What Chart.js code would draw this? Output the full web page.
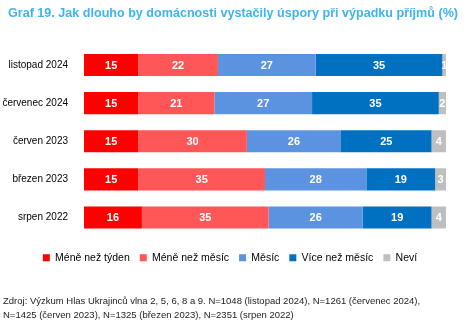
<!DOCTYPE html>
<html>
<head>
<meta charset="utf-8">
<script src="https://cdn.jsdelivr.net/npm/chart.js@4"></script>
<style>
  html, body { margin: 0; padding: 0; background: #fff; }
  #wrap { width: 468px; height: 335px; }
</style>
</head>
<body>
<div id="wrap"><canvas id="chart" width="468" height="335"></canvas></div>
<script>
const periods = ['listopad 2024', 'červenec 2024', 'červen 2023', 'březen 2023', 'srpen 2022'];
const seriesNames = ['Méně než týden', 'Méně než měsíc', 'Měsíc', 'Více než měsíc', 'Neví'];
const lessThanWeek = [15, 15, 15, 15, 16];
const lessThanMonth = [22, 21, 30, 35, 35];
const oneMonth = [27, 27, 26, 28, 26];
const moreThanMonth = [35, 35, 25, 19, 19];
const dontKnow = [1, 2, 4, 3, 4];
const seriesColors = ['#FF0000', '#FF5757', '#5B93E0', '#0070C0', '#BFBFBF'];

const titleText = 'Graf 19. Jak dlouho by domácnosti vystačily úspory při výpadku příjmů (%)';
const sourceLines = [
    'Zdroj: Výzkum Hlas Ukrajinců vlna 2, 5, 6, 8 a 9. N=1048 (listopad 2024), N=1261 (červenec 2024),',
    'N=1425 (červen 2023), N=1325 (březen 2023), N=2351 (srpen 2022)'
];

const allValues = [lessThanWeek, lessThanMonth, oneMonth, moreThanMonth, dontKnow];
const font = 'Arial, "Liberation Sans", sans-serif';

// white numbers in the middle of every segment
const barLabels = {
    id: 'barLabels',
    afterDatasetsDraw(chart) {
        const ctx = chart.ctx;
        ctx.save();
        ctx.font = 'bold 11px ' + font;
        ctx.fillStyle = '#fff';
        ctx.textAlign = 'center';
        ctx.textBaseline = 'middle';
        chart.data.datasets.forEach((ds, i) => {
            chart.getDatasetMeta(i).data.forEach((bar, j) => {
                const x = (bar.x + bar.base) / 2;
                ctx.fillText(String(ds.data[j]), x, bar.y + 1);
            });
        });
        ctx.restore();
    }
};

// title on top and source note at the bottom, both left aligned
const headAndFoot = {
    id: 'headAndFoot',
    afterLayout(chart) {
        // legend in the original sits a bit right of the canvas centre
        chart.legend.left += 7;
        chart.legend.right += 7;
    },
    afterDraw(chart) {
        const ctx = chart.ctx;
        ctx.save();
        ctx.textBaseline = 'middle';
        ctx.font = 'bold 13px ' + font;
        ctx.fillStyle = '#3DB4F2';
        ctx.fillText(titleText, 8, 13, 450);
        ctx.font = '9.5px ' + font;
        ctx.fillStyle = '#222';
        ctx.fillText(sourceLines[0], 3, 301);
        ctx.fillText(sourceLines[1], 3, 315);
        ctx.restore();
    }
};

new Chart(document.getElementById('chart'), {
    type: 'bar',
    data: {
        labels: periods,
        datasets: seriesNames.map((name, i) => ({
            label: name,
            data: allValues[i],
            backgroundColor: seriesColors[i],
            borderWidth: 0,
            categoryPercentage: 0.58,
            barPercentage: 1
        }))
    },
    options: {
        indexAxis: 'y',
        responsive: false,
        animation: false,
        layout: { padding: { left: 0, right: 22, top: 46, bottom: 62 } },
        scales: {
            x: {
                stacked: true, min: 0, max: 100,
                grid: { display: false },
                border: { display: false },
                ticks: { display: false },
                afterFit(scale) { scale.height = 6; }
            },
            y: {
                stacked: true,
                grid: { display: false },
                border: { display: false },
                ticks: { color: '#000', font: { family: font, size: 10 }, padding: 8 },
                afterFit(scale) { scale.width = 84; }
            }
        },
        plugins: {
            legend: {
                position: 'bottom',
                labels: {
                    boxWidth: 7,
                    boxHeight: 7,
                    color: '#000',
                    font: { family: font, size: 10.5 },
                    padding: 10
                }
            },
            tooltip: { enabled: false }
        }
    },
    plugins: [barLabels, headAndFoot]
});
</script>
</body>
</html>
